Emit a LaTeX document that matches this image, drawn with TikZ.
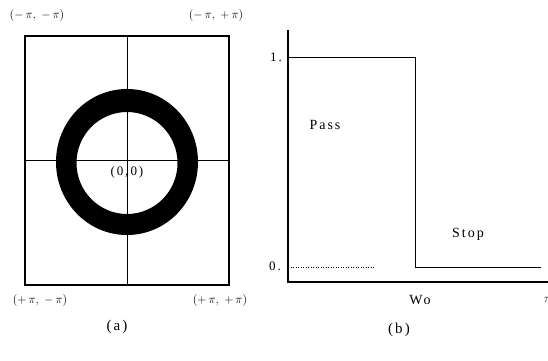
\documentclass[tikz,border=0pt]{standalone}
\usepackage{amsmath}
\usepackage{fontspec}
\setmainfont{Liberation Serif}[LetterSpace=14]
\begin{document}
\begin{tikzpicture}[x=1pt, y=-1pt,
  every node/.style={inner sep=1pt, font=\fontsize{13}{15}\selectfont},
  corner/.style={font=\fontsize{12}{14}\selectfont},
  word/.style={font=\fontsize{14}{16}\selectfont},
  caption/.style={font=\fontsize{15}{17}\selectfont},
  frame/.style={line width=1.1pt},
  axis/.style={line width=1.1pt},
  hair/.style={line width=0.5pt}]
\useasboundingbox (0,0) rectangle (548,360);
% (a) frequency plane with ring
\draw[frame] (25,36) rectangle (229,285);
\fill[even odd rule] (127,162) ellipse (71 and 73) (127,163) ellipse (50.5 and 51);
\draw[hair] (25,160) -- (229,160);
\draw[hair] (127,36) -- (127,285);
\node (org) at (127,172) {(0,\,0)};
\node[corner] (tl) at (37,15) {$(-\,\pi,\;-\,\pi)$};
\node[corner] (tr) at (216,15) {$(-\,\pi,\;+\,\pi)$};
\node[corner] (bl) at (40,300) {$(+\,\pi,\;-\,\pi)$};
\node[corner] (br) at (220,300) {$(+\,\pi,\;+\,\pi)$};
\node[caption] (capa) at (117,327) {(a)};
% (b) ideal response
\draw[axis] (288,30) -- (288,283);
\draw[axis] (288,282) -- (548,282);
\draw[line width=1pt] (288,57) -- (415,57) -- (415,267) -- (541,267);
\draw[hair, dotted] (288,267) -- (375,267);
\node (one) at (276,57) {1.};
\node (zero) at (275,266) {0.};
\node[word] (pass) at (325,125) {Pass};
\node[word] (stop) at (468,234) {Stop};
\node[word] (wo) at (420,300) {Wo};
\node[anchor=west] (pi) at (543,300) {$\pi$};
\node[caption] (capb) at (399,330) {(b)};
\end{tikzpicture}
\end{document}
